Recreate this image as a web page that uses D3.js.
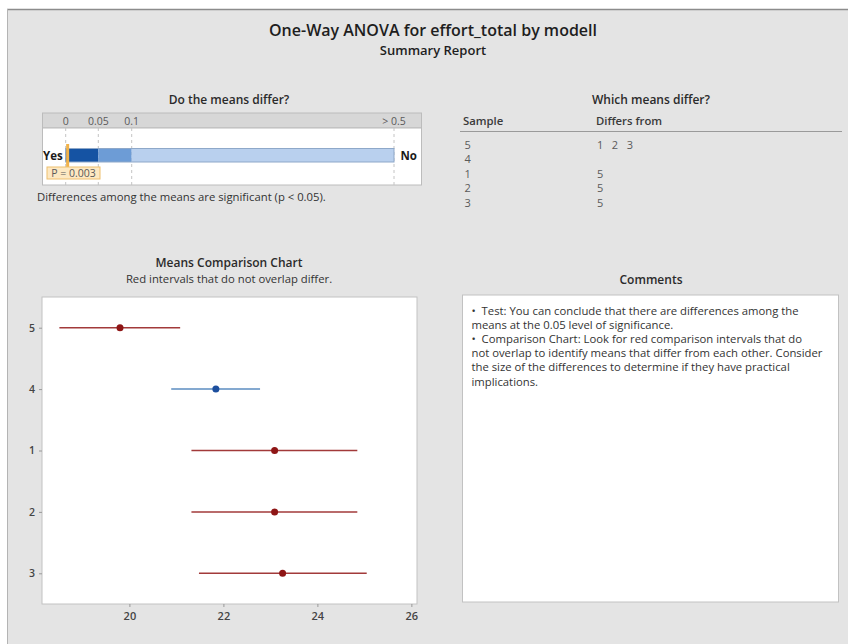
<!DOCTYPE html>
<html>
<head>
<meta charset="utf-8">
<script src="https://cdn.jsdelivr.net/npm/d3@7"></script>
<style>
  html, body { margin: 0; padding: 0; background: #ffffff; }
  svg { display: block; font-family: "Open Sans", "Noto Sans", sans-serif; }
</style>
</head>
<body>
<svg id="chart" width="848" height="644"></svg>
<script>
// ---- Report data ----
const reportTitle = "One-Way ANOVA for effort_total by modell";
const reportSubtitle = "Summary Report";

// p-value gauge
const pValue = 0.003;
const pTicks = [0, 0.05, 0.1, 0.5];
const pTickLabels = ["0", "0.05", "0.1", "> 0.5"];
const pBands = [[0, 0.05], [0.05, 0.1], [0.1, 0.5]];
const pConclusion = "Differences among the means are significant (p < 0.05).";

// Which means differ?
const tableSamples = ["5", "4", "1", "2", "3"];
const tableDiffers = [["1", "2", "3"], [], ["5"], ["5"], ["5"]];

// Means comparison chart
const samples = ["5", "4", "1", "2", "3"];
const means = [19.80, 21.84, 23.09, 23.09, 23.26];
const lowerCI = [18.51, 20.89, 21.32, 21.32, 21.48];
const upperCI = [21.08, 22.78, 24.85, 24.85, 25.05];
const significant = [true, false, true, true, true];
const xTicks = [20, 22, 24, 26];
const xDomain = [18.14, 26.12];

// Comments
const commentLines = [
  "\u2022  Test: You can conclude that there are differences among the",
  "means at the 0.05 level of significance.",
  "\u2022  Comparison Chart: Look for red comparison intervals that do",
  "not overlap to identify means that differ from each other. Consider",
  "the size of the differences to determine if they have practical",
  "implications."
];

// ---- Drawing ----
const svg = d3.select("#chart");
const textDark = "#2b2b2b";
const textGray = "#5a5a5a";
const bodySize = 11.3;
const headSize = 12;

// report background
svg.append("rect").attr("x", 7).attr("y", 9).attr("width", 841).attr("height", 635)
  .attr("fill", "#e4e4e4");
svg.append("line").attr("x1", 7).attr("x2", 848).attr("y1", 9.5).attr("y2", 9.5)
  .attr("stroke", "#8c8c8c").attr("stroke-width", 1.5);
svg.append("line").attr("x1", 7.5).attr("x2", 7.5).attr("y1", 9).attr("y2", 644)
  .attr("stroke", "#b4b4b4").attr("stroke-width", 1);

svg.append("text").attr("x", 433).attr("y", 36).attr("text-anchor", "middle")
  .attr("font-size", 16).attr("font-weight", 600).attr("fill", "#1e1e1e").text(reportTitle);
svg.append("text").attr("x", 433).attr("y", 55).attr("text-anchor", "middle")
  .attr("font-size", 13).attr("font-weight", 600).attr("fill", "#1e1e1e").text(reportSubtitle);

// ---- Do the means differ? ----
const gauge = { left: 42.5, right: 421.5, top: 113, head: 128, bottom: 185 };
const pScale = d3.scaleLinear().domain(pTicks).range([65.7, 98.3, 131.7, 394]);

svg.append("text").attr("x", 229).attr("y", 104).attr("text-anchor", "middle")
  .attr("font-size", headSize).attr("font-weight", 600).attr("fill", textDark).text("Do the means differ?");

svg.append("rect").attr("x", gauge.left).attr("y", gauge.top)
  .attr("width", gauge.right - gauge.left).attr("height", gauge.head - gauge.top)
  .attr("fill", "#d7d7d7").attr("stroke", "#bcbcbc");
svg.append("rect").attr("x", gauge.left).attr("y", gauge.head)
  .attr("width", gauge.right - gauge.left).attr("height", gauge.bottom - gauge.head)
  .attr("fill", "#ffffff").attr("stroke", "#bcbcbc");

svg.append("g").selectAll("text").data(pTicks).join("text")
  .attr("x", d => pScale(d)).attr("y", 124.5).attr("text-anchor", "middle")
  .attr("font-size", 10.5).attr("fill", textGray)
  .text((d, i) => pTickLabels[i]);

svg.append("g").selectAll("line").data(pTicks).join("line")
  .attr("x1", d => pScale(d)).attr("x2", d => pScale(d))
  .attr("y1", gauge.head).attr("y2", gauge.bottom)
  .attr("stroke", "#c4c4c4").attr("stroke-dasharray", "3,3");

const bandColors = ["#1553a3", "#6d9cd6", "#b9d0ee"];
svg.append("g").selectAll("rect").data(pBands).join("rect")
  .attr("x", d => pScale(d[0])).attr("y", 148.5)
  .attr("width", d => pScale(d[1]) - pScale(d[0])).attr("height", 13.5)
  .attr("fill", (d, i) => bandColors[i]);
svg.append("rect").attr("x", pScale(0)).attr("y", 148.5)
  .attr("width", pScale(0.5) - pScale(0)).attr("height", 13.5)
  .attr("fill", "none").attr("stroke", "#8ea8c9").attr("stroke-width", 1);

svg.append("text").attr("x", 43).attr("y", 159.5).attr("font-size", 11.5)
  .attr("font-weight", 700).attr("fill", "#1a1a1a").text("Yes");
svg.append("text").attr("x", 400.5).attr("y", 159.5).attr("font-size", 11.5)
  .attr("font-weight", 700).attr("fill", "#1a1a1a").text("No");

// p-value marker and label
svg.append("rect").attr("x", pScale(pValue) - 1.5).attr("y", 144)
  .attr("width", 3).attr("height", 24).attr("fill", "#f0b24a");
svg.append("rect").attr("x", 47).attr("y", 167).attr("width", 53).attr("height", 12)
  .attr("fill", "#fde8c2").attr("stroke", "#eebf6e").attr("stroke-width", 1);
svg.append("text").attr("x", 73.5).attr("y", 177).attr("text-anchor", "middle")
  .attr("font-size", 10.5).attr("fill", textGray).text("P = " + pValue);

svg.append("text").attr("x", 37).attr("y", 201).attr("font-size", bodySize)
  .attr("fill", "#333333").text(pConclusion);

// ---- Which means differ? ----
svg.append("text").attr("x", 651).attr("y", 104).attr("text-anchor", "middle")
  .attr("font-size", headSize).attr("font-weight", 600).attr("fill", textDark).text("Which means differ?");
svg.append("text").attr("x", 463).attr("y", 125).attr("font-size", 11.3)
  .attr("font-weight", 600).attr("fill", "#3a3a3a").text("Sample");
svg.append("text").attr("x", 596).attr("y", 125).attr("font-size", 11.3)
  .attr("font-weight", 600).attr("fill", "#3a3a3a").text("Differs from");
svg.append("line").attr("x1", 460).attr("x2", 842).attr("y1", 131.5).attr("y2", 131.5)
  .attr("stroke", "#9a9a9a");

const rowY = d3.scalePoint().domain(tableSamples).range([148.5, 207]);
const rows = svg.append("g").selectAll("g").data(tableSamples).join("g")
  .attr("transform", d => `translate(0,${rowY(d)})`);
rows.append("text").attr("x", 464.5).attr("font-size", 11).attr("fill", textGray).text(d => d);
rows.append("text").attr("x", 597).attr("font-size", 11).attr("fill", textGray)
  .attr("xml:space", "preserve")
  .text((d, i) => tableDiffers[i].join("   "));

// ---- Means Comparison Chart ----
svg.append("text").attr("x", 229).attr("y", 267).attr("text-anchor", "middle")
  .attr("font-size", headSize).attr("font-weight", 600).attr("fill", textDark).text("Means Comparison Chart");
svg.append("text").attr("x", 229).attr("y", 283).attr("text-anchor", "middle")
  .attr("font-size", bodySize).attr("fill", "#333333").text("Red intervals that do not overlap differ.");

const plot = { left: 42, right: 417, top: 297, bottom: 604 };
svg.append("rect").attr("x", plot.left).attr("y", plot.top)
  .attr("width", plot.right - plot.left).attr("height", plot.bottom - plot.top)
  .attr("fill", "#ffffff").attr("stroke", "#c2c2c2");

const x = d3.scaleLinear().domain(xDomain).range([plot.left, plot.right]);
const y = d3.scalePoint().domain(samples).range([plot.top, plot.bottom]).padding(0.5);

const xAxis = svg.append("g").attr("transform", `translate(0,${plot.bottom})`)
  .call(d3.axisBottom(x).tickValues(xTicks).tickSize(3).tickPadding(5).tickFormat(d3.format("d")));
xAxis.select(".domain").remove();
xAxis.selectAll("line").attr("stroke", "#9a9a9a");
xAxis.selectAll("text").attr("font-size", 11).attr("font-weight", 600)
  .attr("fill", "#444444").attr("font-family", "Open Sans, sans-serif");

const yAxis = svg.append("g").attr("transform", `translate(${plot.left},0)`)
  .call(d3.axisLeft(y).tickSize(3).tickPadding(4));
yAxis.select(".domain").remove();
yAxis.selectAll("line").attr("stroke", "#9a9a9a");
yAxis.selectAll("text").attr("font-size", 10.5).attr("font-weight", 600)
  .attr("fill", "#444444").attr("font-family", "Open Sans, sans-serif");

const redLine = "#a23a3a", redDot = "#8e1515";
const blueLine = "#5b8cc0", blueDot = "#1d4f9e";
const marks = svg.append("g").selectAll("g").data(samples).join("g");
marks.append("line")
  .attr("x1", (d, i) => x(lowerCI[i])).attr("x2", (d, i) => x(upperCI[i]))
  .attr("y1", d => y(d)).attr("y2", d => y(d))
  .attr("stroke", (d, i) => significant[i] ? redLine : blueLine).attr("stroke-width", 1.5);
marks.append("circle")
  .attr("cx", (d, i) => x(means[i])).attr("cy", d => y(d)).attr("r", 3.5)
  .attr("fill", (d, i) => significant[i] ? redDot : blueDot);

// ---- Comments ----
svg.append("text").attr("x", 651).attr("y", 284).attr("text-anchor", "middle")
  .attr("font-size", headSize).attr("font-weight", 600).attr("fill", textDark).text("Comments");
svg.append("rect").attr("x", 462.5).attr("y", 295).attr("width", 376).attr("height", 307)
  .attr("fill", "#ffffff").attr("stroke", "#c2c2c2");
svg.append("g").selectAll("text").data(commentLines).join("text")
  .attr("x", 471.5).attr("y", (d, i) => 315 + i * 14.1)
  .attr("font-size", bodySize).attr("fill", "#333333").attr("xml:space", "preserve")
  .text(d => d);
</script>
</body>
</html>
